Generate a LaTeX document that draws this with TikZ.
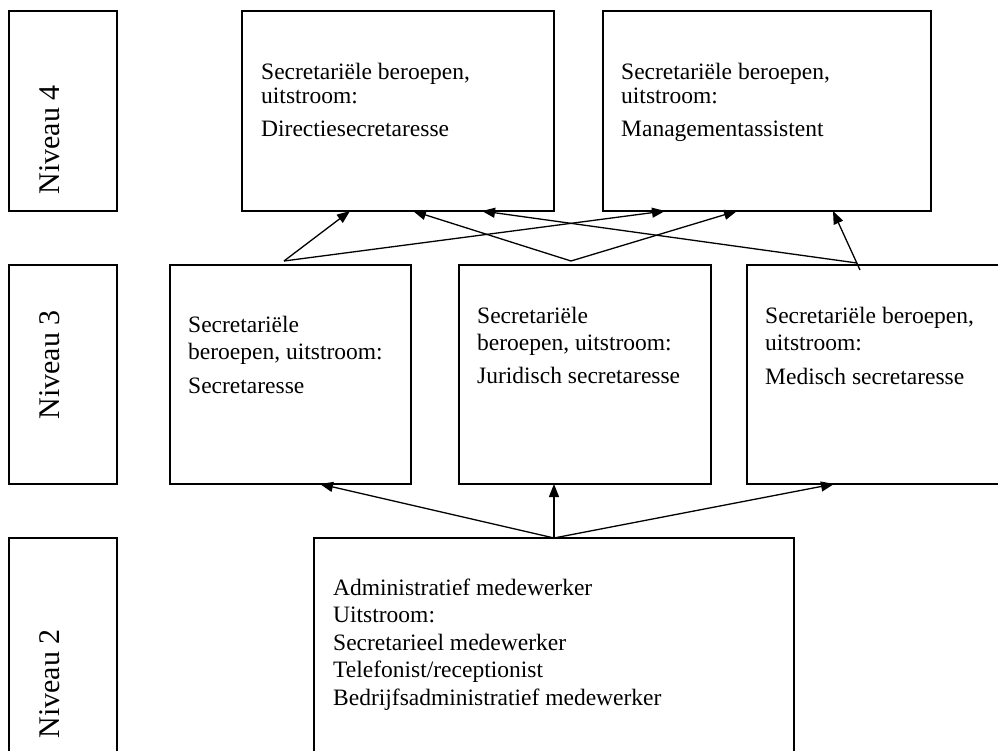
\documentclass[tikz,border=0pt]{standalone}
\usepackage{fontspec}
\setmainfont{Liberation Serif}
\usetikzlibrary{arrows.meta}
\begin{document}
\begin{tikzpicture}[x=1pt,y=-1pt,
  box/.style={draw, line width=1.3pt, inner sep=0pt, outer sep=0pt, anchor=north west},
  txt/.style={anchor=base west, inner sep=0pt, font=\fontsize{23.5}{27.5}\selectfont},
  lvl/.style={rotate=90, inner sep=0pt, font=\fontsize{30}{30}\selectfont},
  arr/.style={line width=1.3pt, -{Triangle[length=13pt,width=10pt]}}]
\useasboundingbox (0,0) rectangle (998,751);
\clip (0,0) rectangle (998,751);
% level boxes
\node[box, minimum width=108pt, minimum height=200pt] (n4) at (9,11) {};
\node[box, minimum width=108pt, minimum height=219pt] (n3) at (9,265) {};
\node[box, minimum width=108pt, minimum height=250pt] (n2) at (9,538) {};
\node[lvl] (n4t) at (50,140) {Niveau 4};
\node[lvl] (n3t) at (50,365) {Niveau 3};
\node[lvl] (n2t) at (50,684) {Niveau 2};
% content boxes
\node[box, minimum width=312pt, minimum height=200pt] (t1) at (242,11) {};
\node[box, minimum width=328pt, minimum height=200pt] (t2) at (603,11) {};
\node[box, minimum width=241pt, minimum height=219pt] (m1) at (170,265) {};
\node[box, minimum width=252pt, minimum height=219pt] (m2) at (459,265) {};
\node[box, minimum width=300pt, minimum height=219pt] (m3) at (747,265) {};
\node[box, minimum width=480pt, minimum height=250pt] (b) at (314,538) {};
% texts
\node[txt] (t1t) at (261,80) {\vtop{\baselineskip=24pt\hbox{Secretariële beroepen,}\hbox{uitstroom:}\vskip9pt\hbox{Directiesecretaresse}}};
\node[txt] (t2t) at (621,80) {\vtop{\baselineskip=24pt\hbox{Secretariële beroepen,}\hbox{uitstroom:}\vskip9pt\hbox{Managementassistent}}};
\node[txt] (m1t) at (188,332) {\vtop{\baselineskip=27pt\hbox{Secretariële}\hbox{beroepen, uitstroom:}\vskip7pt\hbox{Secretaresse}}};
\node[txt] (m2t) at (477,323) {\vtop{\baselineskip=27pt\hbox{Secretariële}\hbox{beroepen, uitstroom:}\vskip6pt\hbox{Juridisch secretaresse}}};
\node[txt] (m3t) at (765,323) {\vtop{\baselineskip=27pt\hbox{Secretariële beroepen,}\hbox{uitstroom:}\vskip7pt\hbox{Medisch secretaresse}}};
\node[txt] (bt) at (333,595) {\vtop{\baselineskip=27.5pt\hbox{Administratief medewerker}\hbox{Uitstroom:}\hbox{Secretarieel medewerker}\hbox{Telefonist/receptionist}\hbox{Bedrijfsadministratief medewerker}}};
% connector points
\coordinate (A) at ([xshift=114pt,yshift=4pt]m1.north west);
\coordinate (B) at ([xshift=112pt,yshift=4pt]m2.north west);
\coordinate (C) at ([xshift=110pt,yshift=2pt]m3.north west);
\coordinate (Cx) at ([xshift=113pt,yshift=-5pt]m3.north west);
\coordinate (S) at ([xshift=240pt]b.north west);
% upward arrows level 2 -> 3
\draw[arr] (S) -- ([xshift=150pt]m1.south west);
\draw[arr] (S) -- ([xshift=95pt]m2.south west);
\draw[arr] (S) -- ([xshift=87pt]m3.south west);
% upward arrows level 3 -> 4
\draw[arr] (A) -- ([xshift=108pt]t1.south west);
\draw[arr] (A) -- ([xshift=62pt]t2.south west);
\draw[arr] (B) -- ([xshift=171pt]t1.south west);
\draw[arr] (B) -- ([xshift=134pt]t2.south west);
\draw[arr] (C) -- ([xshift=240pt]t1.south west);
\draw[arr] (Cx) -- ([xshift=230pt]t2.south west);
\end{tikzpicture}
\end{document}
